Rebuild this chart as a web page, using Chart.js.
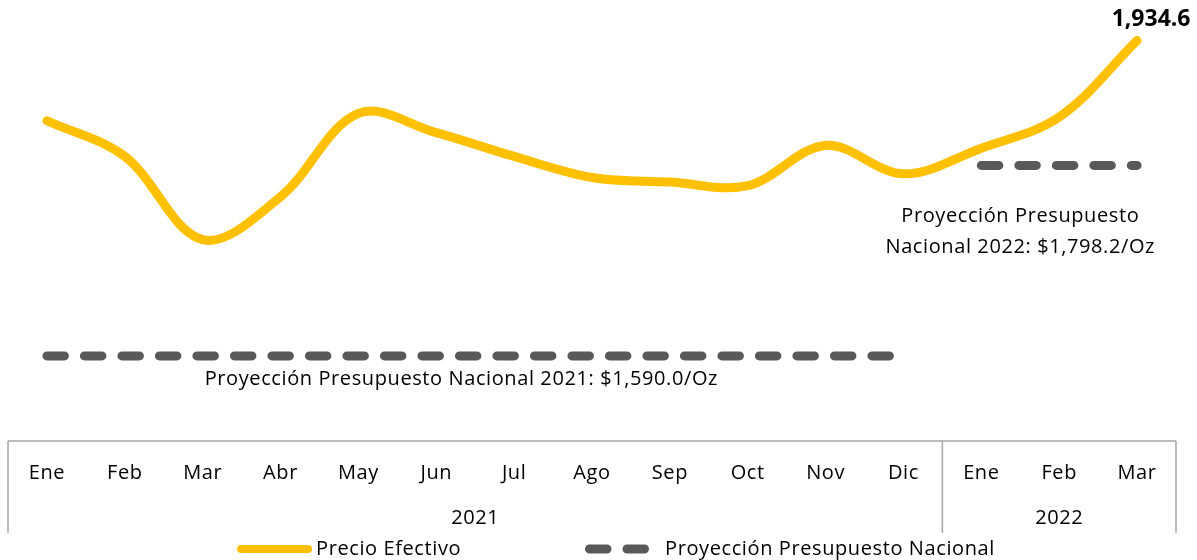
<!DOCTYPE html>
<html>
<head>
<meta charset="utf-8">
<script src="https://cdn.jsdelivr.net/npm/chart.js@4/dist/chart.umd.min.js"></script>
<style>
  html, body { margin: 0; padding: 0; background: #fff; }
  #wrap { width: 1197px; height: 560px; position: relative; }
</style>
</head>
<body>
<div id="wrap"><canvas id="c"></canvas></div>
<script>
// ---- Data ----
const months = ["Ene","Feb","Mar","Abr","May","Jun","Jul","Ago","Sep","Oct","Nov","Dic","Ene","Feb","Mar"];
const years = ["2021", "2022"];
const yearSpans = [[0, 11], [12, 14]];
const precioEfectivo = [1847, 1808, 1717, 1764, 1855, 1834, 1808, 1785, 1780, 1776, 1820, 1789, 1817, 1851, 1934.6];
const proyeccion = [1590, 1590, 1590, 1590, 1590, 1590, 1590, 1590, 1590, 1590, 1590, 1590, 1798.2, 1798.2, 1798.2];
const seriesNames = ["Precio Efectivo", "Proyección Presupuesto Nacional"];
const notes2021 = ["Proyección Presupuesto Nacional 2021: $1,590.0/Oz"];
const notes2022 = ["Proyección Presupuesto", "Nacional 2022: $1,798.2/Oz"];
const lastLabel = "1,934.6";

const YELLOW = "#FFC000";
const GRAY = "#595959";
const BOX = "#A6A6A6";
const FONT = "'Open Sans'";
const SPACING = "0.6px";

const spacing = {
  id: "spacing",
  beforeDraw(chart) { chart.ctx.letterSpacing = SPACING; }
};

const annotate = {
  id: "annotate",
  afterDatasetsDraw(chart) {
    const ctx = chart.ctx;
    const x = chart.scales.x, y = chart.scales.y;
    const area = chart.chartArea;
    ctx.save();
    ctx.letterSpacing = SPACING;
    // axis box
    ctx.strokeStyle = BOX;
    ctx.lineWidth = 1.5;
    const boxBottom = area.bottom + 92;
    const sep = (x.getPixelForValue(11) + x.getPixelForValue(12)) / 2;
    ctx.beginPath();
    ctx.moveTo(area.left, area.bottom); ctx.lineTo(area.right, area.bottom);
    [area.left, sep, area.right].forEach(px => { ctx.moveTo(px, area.bottom); ctx.lineTo(px, boxBottom); });
    ctx.stroke();
    // year labels
    ctx.fillStyle = "#000";
    ctx.font = "20px " + FONT;
    ctx.textAlign = "center";
    ctx.textBaseline = "middle";
    years.forEach((yr, i) => {
      const cx = (x.getPixelForValue(yearSpans[i][0]) + x.getPixelForValue(yearSpans[i][1])) / 2;
      ctx.fillText(yr, cx, area.bottom + 77);
    });
    // note 2021
    ctx.textAlign = "left";
    ctx.fillText(notes2021[0], x.getPixelForValue(2) + 2, y.getPixelForValue(1590) + 23);
    // note 2022
    ctx.textAlign = "center";
    const c22 = (x.getPixelForValue(12) + x.getPixelForValue(13)) / 2;
    const y22 = y.getPixelForValue(1798.2);
    ctx.fillText(notes2022[0], c22, y22 + 51);
    ctx.fillText(notes2022[1], c22, y22 + 82);
    // last value label
    const li = precioEfectivo.length - 1;
    ctx.letterSpacing = "0px";
    ctx.font = "bold 23px " + FONT;
    ctx.fillText(lastLabel, x.getPixelForValue(li) + 14, y.getPixelForValue(precioEfectivo[li]) - 21);
    ctx.letterSpacing = SPACING;
    // legend
    const ly = 549;
    ctx.lineCap = "round";
    ctx.strokeStyle = YELLOW;
    ctx.lineWidth = 8;
    ctx.beginPath(); ctx.moveTo(241, ly); ctx.lineTo(308, ly); ctx.stroke();
    ctx.strokeStyle = GRAY;
    ctx.lineWidth = 9;
    ctx.setLineDash([17.5, 20]);
    ctx.beginPath(); ctx.moveTo(589.5, ly); ctx.lineTo(645, ly); ctx.stroke();
    ctx.setLineDash([]);
    ctx.font = "20px " + FONT;
    ctx.textAlign = "left";
    ctx.fillStyle = "#000";
    ctx.fillText(seriesNames[0], 316, ly);
    ctx.fillText(seriesNames[1], 665, ly);
    ctx.restore();
  }
};

new Chart(document.getElementById("c"), {
  type: "line",
  data: {
    labels: months,
    datasets: [
      {
        label: seriesNames[1],
        data: proyeccion,
        borderColor: GRAY,
        borderWidth: 9,
        borderDash: [17.5, 20],
        borderCapStyle: "round",
        pointRadius: 0,
        tension: 0,
        segment: {
          borderColor: c => c.p0DataIndex === 11 ? "rgba(0,0,0,0)" : undefined
        }
      },
      {
        label: seriesNames[0],
        data: precioEfectivo,
        borderColor: YELLOW,
        borderWidth: 9,
        borderCapStyle: "round",
        borderJoinStyle: "round",
        pointRadius: 0,
        tension: 0.35
      }
    ]
  },
  options: {
    responsive: true,
    maintainAspectRatio: false,
    animation: false,
    layout: { padding: { left: 8, right: 21, top: 10, bottom: 0 } },
    plugins: { legend: { display: false }, tooltip: { enabled: false } },
    scales: {
      x: {
        offset: true,
        grid: { display: false, drawTicks: false },
        border: { display: false },
        ticks: { font: { family: "Open Sans", size: 20 }, color: "#000", padding: 20, maxRotation: 0, autoSkip: false },
        afterFit: s => { s.height = 119; }
      },
      y: {
        display: false,
        min: 1497,
        max: 1968
      }
    }
  },
  plugins: [spacing, annotate]
});
</script>
</body>
</html>
